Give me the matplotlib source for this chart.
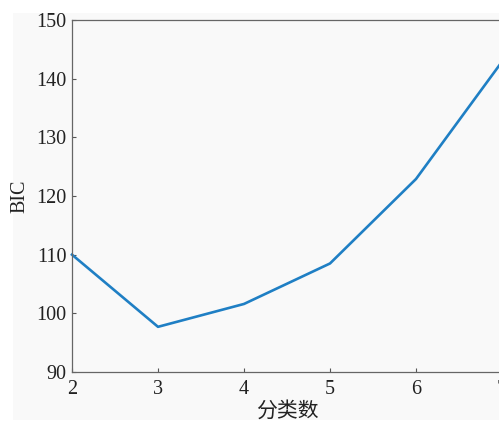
import matplotlib
matplotlib.use("Agg")
import matplotlib.pyplot as plt
from matplotlib.patches import Rectangle

# Number of clusters vs. BIC score
n_clusters = [2, 3, 4, 5, 6, 7]
bic_values = [110.0, 97.7, 101.6, 108.5, 122.9, 142.9]
x_ticks = [2, 3, 4, 5, 6, 7]
y_ticks = [90, 100, 110, 120, 130, 140, 150]

plt.rcParams['font.family'] = ['Liberation Serif', 'Noto Sans CJK SC']

W, H = 499, 422
fig = plt.figure(figsize=(W / 100, H / 100), dpi=100, facecolor='white')

# light panel behind the plot
fig.patches.append(Rectangle((13 / W, 2 / H), 1 - 13 / W, (H - 15) / H,
                             transform=fig.transFigure, facecolor='#f9f9f9',
                             edgecolor='none', zorder=-10))

ax = fig.add_axes([72 / W, 50 / H, 430 / W, 352 / H])
ax.set_zorder(5)
ax.set_facecolor('#f9f9f9')
ax.plot(n_clusters, bic_values, color='#1f7fc4', linewidth=1.9, clip_on=False)

ax.set_xlim(2, 7)
ax.set_ylim(90, 150)
ax.set_xticks(x_ticks)
ax.set_yticks(y_ticks)

text_color = '#222222'
ax.tick_params(direction='in', length=3, width=0.8, color='#555555',
               labelsize=14.5, labelcolor=text_color)
ax.tick_params(axis='x', pad=6)
ax.tick_params(axis='y', pad=4)
for s in ax.spines.values():
    s.set_color('#666666')
    s.set_linewidth(0.9)

ax.set_ylabel('BIC', fontsize=14.5, color=text_color, labelpad=5)
ax.set_xlabel('分类数', fontsize=15, color=text_color,
              family=['Noto Sans CJK SC'], labelpad=0.5)

fig.savefig('out.png', dpi=100, facecolor='white')
